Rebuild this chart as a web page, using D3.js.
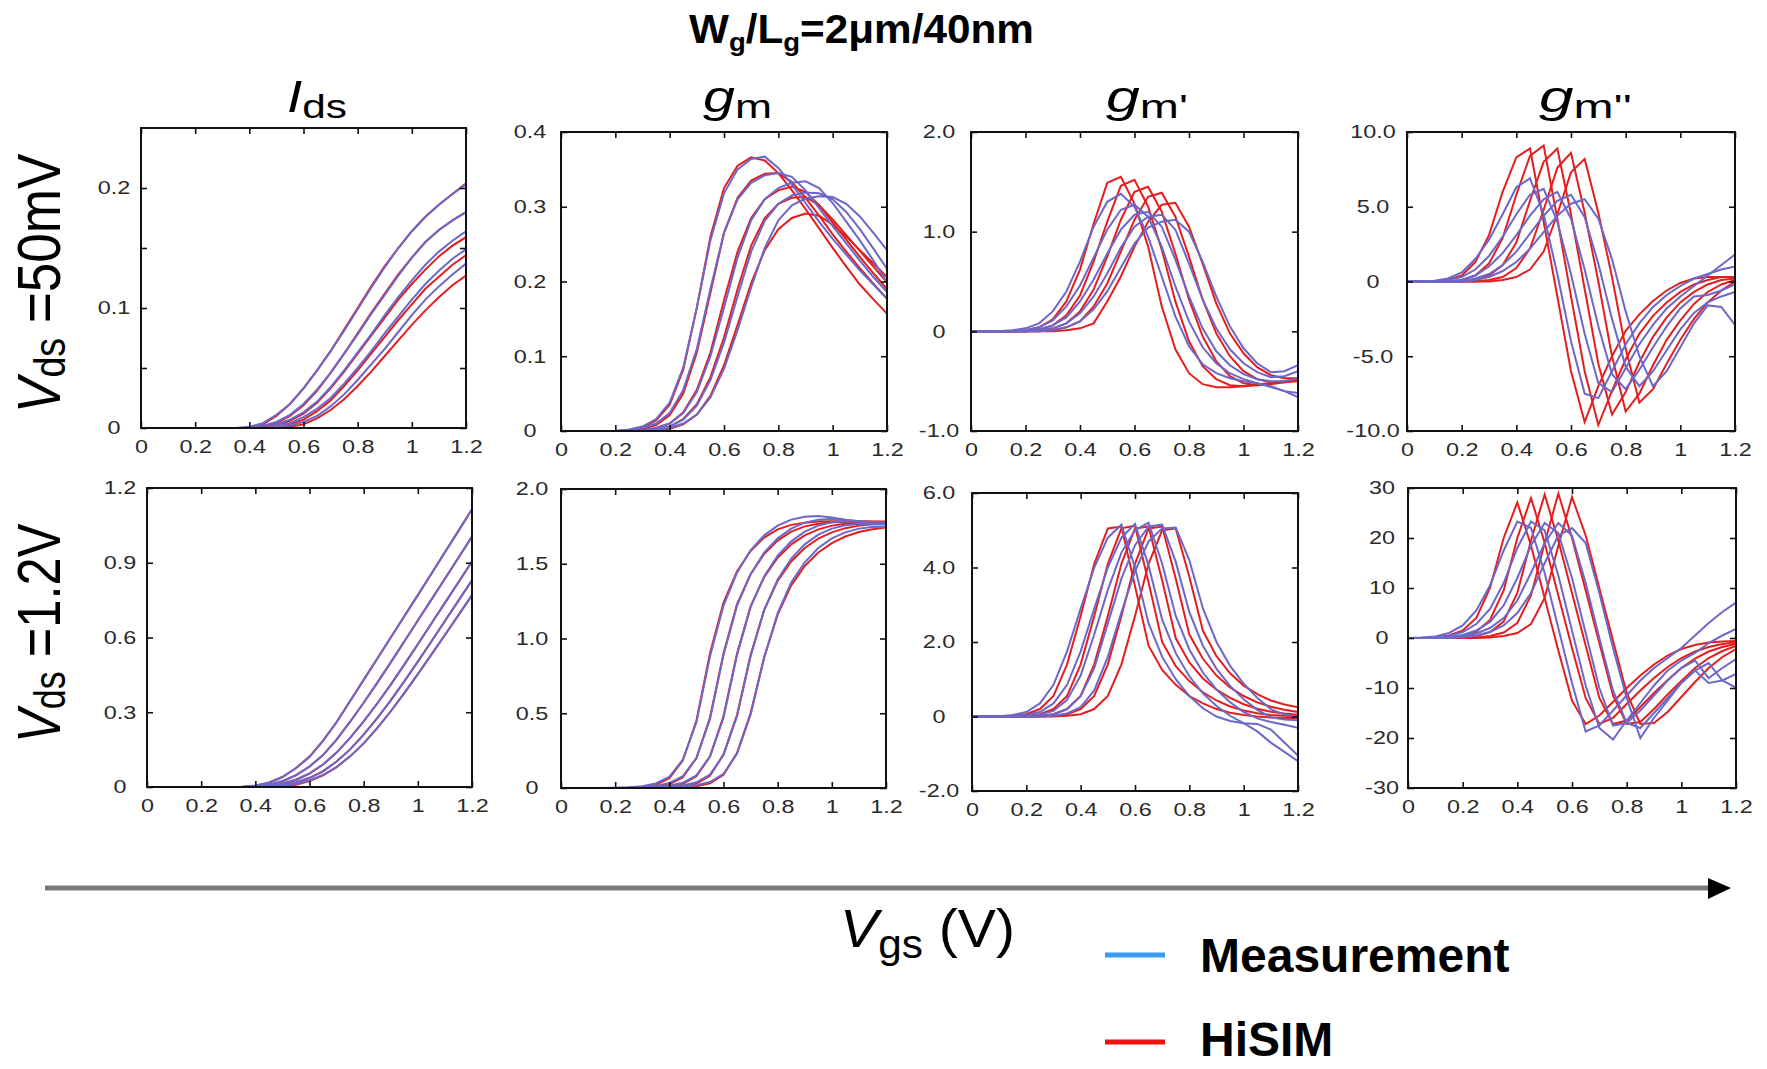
<!DOCTYPE html>
<html>
<head>
<meta charset="utf-8">
<script src="https://cdn.jsdelivr.net/npm/d3@7"></script>
<style>
  body { margin: 0; background: #fff; }
  svg { display: block; font-family: "Liberation Sans", Arial, sans-serif; }
</style>
</head>
<body>
<script>
// Gate voltage grid shared by every curve (V)
var vgs = [0, 0.05, 0.1, 0.15, 0.2, 0.25, 0.3, 0.35, 0.4, 0.45, 0.5, 0.55, 0.6,
           0.65, 0.7, 0.75, 0.8, 0.85, 0.9, 0.95, 1, 1.05, 1.1, 1.15, 1.2];

var xTicks = [0, 0.2, 0.4, 0.6, 0.8, 1, 1.2];
var xTickLabels = ["0", "0.2", "0.4", "0.6", "0.8", "1", "1.2"];

// ---- Vds = 50mV ----
// Ids
var idsLinYTicks = [0, 0.05, 0.1, 0.15, 0.2];
var idsLinYLabels = ["0", "", "0.1", "", "0.2"];
var idsLinMeas = [
  [0,0,0,0,0,0,0,0,0.001,0.004,0.011,0.020,0.033,0.048,0.064,0.081,0.099,0.117,0.134,0.150,0.164,0.176,0.186,0.195,0.203],
  [0,0,0,0,0,0,0,0,0,0.002,0.005,0.011,0.020,0.032,0.046,0.062,0.078,0.095,0.111,0.127,0.142,0.155,0.165,0.173,0.180],
  [0,0,0,0,0,0,0,0,0,0,0.003,0.007,0.013,0.022,0.034,0.048,0.063,0.078,0.094,0.109,0.123,0.136,0.147,0.156,0.164],
  [0,0,0,0,0,0,0,0,0,0,0.002,0.004,0.009,0.016,0.025,0.037,0.050,0.064,0.079,0.093,0.107,0.120,0.131,0.141,0.149],
  [0,0,0,0,0,0,0,0,0,0,0,0.002,0.005,0.010,0.018,0.028,0.040,0.053,0.066,0.080,0.094,0.107,0.118,0.128,0.137]
];
var idsLinSim = [
  [0,0,0,0,0,0,0,0,0,0.003,0.010,0.020,0.033,0.048,0.064,0.082,0.100,0.118,0.135,0.150,0.164,0.176,0.186,0.195,0.204],
  [0,0,0,0,0,0,0,0,0,0.001,0.004,0.010,0.019,0.031,0.046,0.062,0.079,0.096,0.112,0.128,0.142,0.155,0.165,0.173,0.180],
  [0,0,0,0,0,0,0,0,0,0,0.002,0.006,0.012,0.021,0.033,0.047,0.062,0.077,0.092,0.107,0.120,0.132,0.143,0.152,0.159],
  [0,0,0,0,0,0,0,0,0,0,0,0.003,0.007,0.014,0.023,0.035,0.048,0.062,0.076,0.090,0.103,0.116,0.126,0.136,0.144],
  [0,0,0,0,0,0,0,0,0,0,0,0.001,0.003,0.008,0.015,0.024,0.035,0.047,0.060,0.073,0.086,0.098,0.109,0.119,0.127]
];

// gm
var gmLinYTicks = [0, 0.1, 0.2, 0.3, 0.4];
var gmLinYLabels = ["0", "0.1", "0.2", "0.3", "0.4"];
var gmLinMeas = [
  [0,0,0,0,0,0.002,0.006,0.016,0.038,0.085,0.165,0.255,0.318,0.350,0.364,0.367,0.352,0.330,0.305,0.280,0.257,0.236,0.215,0.196,0.177],
  [0,0,0,0,0,0.001,0.004,0.010,0.024,0.055,0.110,0.190,0.265,0.310,0.332,0.342,0.345,0.340,0.322,0.298,0.274,0.251,0.228,0.206,0.186],
  [0,0,0,0,0,0,0.001,0.004,0.010,0.024,0.052,0.100,0.165,0.232,0.282,0.310,0.325,0.332,0.334,0.325,0.305,0.280,0.255,0.228,0.199],
  [0,0,0,0,0,0,0,0.002,0.006,0.015,0.034,0.068,0.118,0.180,0.240,0.281,0.304,0.315,0.319,0.318,0.310,0.293,0.270,0.244,0.217],
  [0,0,0,0,0,0,0,0.001,0.004,0.010,0.022,0.045,0.083,0.135,0.192,0.245,0.282,0.302,0.311,0.314,0.313,0.304,0.287,0.265,0.242]
];
var gmLinSim = [
  [0,0,0,0,0,0.001,0.005,0.014,0.035,0.082,0.165,0.260,0.325,0.355,0.366,0.362,0.345,0.322,0.297,0.271,0.245,0.220,0.196,0.176,0.157],
  [0,0,0,0,0,0,0.003,0.008,0.021,0.050,0.105,0.185,0.265,0.312,0.335,0.344,0.345,0.333,0.312,0.288,0.263,0.240,0.218,0.197,0.177],
  [0,0,0,0,0,0,0.001,0.004,0.010,0.025,0.055,0.105,0.175,0.240,0.285,0.310,0.322,0.327,0.320,0.302,0.279,0.256,0.233,0.211,0.190],
  [0,0,0,0,0,0,0,0.002,0.006,0.016,0.036,0.072,0.125,0.190,0.248,0.285,0.304,0.312,0.313,0.302,0.283,0.262,0.241,0.220,0.199],
  [0,0,0,0,0,0,0,0.001,0.003,0.009,0.022,0.047,0.088,0.142,0.198,0.242,0.270,0.285,0.291,0.288,0.276,0.260,0.242,0.224,0.206]
];

// gm'
var gm1LinYTicks = [-1, 0, 1, 2];
var gm1LinYLabels = ["-1.0", "0", "1.0", "2.0"];
var gm1LinMeas = [
  [0,0,0,0.01,0.03,0.08,0.20,0.40,0.70,1.05,1.30,1.38,1.25,0.95,0.55,0.15,-0.15,-0.33,-0.42,-0.47,-0.50,-0.52,-0.55,-0.60,-0.66],
  [0,0,0,0,0.01,0.04,0.11,0.25,0.46,0.74,1.02,1.22,1.27,1.15,0.85,0.45,0.10,-0.16,-0.32,-0.42,-0.48,-0.52,-0.56,-0.60,-0.62],
  [0,0,0,0,0,0.02,0.06,0.14,0.30,0.52,0.78,1.02,1.17,1.20,1.05,0.72,0.35,0.03,-0.20,-0.34,-0.43,-0.48,-0.50,-0.50,-0.47],
  [0,0,0,0,0,0.01,0.03,0.08,0.18,0.35,0.58,0.84,1.05,1.15,1.17,1.02,0.68,0.32,0.03,-0.18,-0.32,-0.41,-0.46,-0.45,-0.40],
  [0,0,0,0,0,0,0.01,0.04,0.10,0.22,0.40,0.64,0.88,1.04,1.10,1.12,1.00,0.70,0.35,0.05,-0.17,-0.32,-0.41,-0.40,-0.34]
];
var gm1LinSim = [
  [0,0,0,0,0.01,0.04,0.12,0.30,0.62,1.08,1.49,1.55,1.28,0.85,0.25,-0.18,-0.42,-0.53,-0.56,-0.56,-0.55,-0.53,-0.52,-0.50,-0.48],
  [0,0,0,0,0,0.02,0.06,0.16,0.36,0.70,1.10,1.46,1.52,1.25,0.82,0.30,-0.10,-0.35,-0.48,-0.54,-0.55,-0.54,-0.52,-0.50,-0.48],
  [0,0,0,0,0,0.01,0.03,0.08,0.20,0.42,0.75,1.12,1.40,1.45,1.20,0.78,0.32,-0.05,-0.30,-0.45,-0.52,-0.54,-0.53,-0.51,-0.49],
  [0,0,0,0,0,0,0.01,0.04,0.10,0.25,0.48,0.80,1.12,1.35,1.39,1.15,0.75,0.32,-0.02,-0.25,-0.40,-0.48,-0.51,-0.51,-0.50],
  [0,0,0,0,0,0,0,0.01,0.03,0.08,0.30,0.55,0.85,1.10,1.27,1.29,1.05,0.68,0.28,-0.02,-0.22,-0.36,-0.44,-0.47,-0.47]
];

// gm''
var gm2LinYTicks = [-10, -5, 0, 5, 10];
var gm2LinYLabels = ["-10.0", "-5.0", "0", "5.0", "10.0"];
var gm2LinMeas = [
  [0,0,0.05,0.2,0.6,1.5,2.8,4.5,6.3,6.9,4.5,0.5,-4.0,-7.5,-7.8,-6.0,-4.2,-2.8,-1.7,-0.9,-0.3,0.2,0.5,0.8,1.0],
  [0,0,0,0.1,0.3,0.8,1.7,3.0,4.5,5.8,6.2,4.0,0.5,-3.5,-6.8,-7.4,-5.8,-4.2,-2.9,-1.8,-1.0,-0.3,0.4,1.1,1.8],
  [0,0,0,0,0.1,0.4,1.0,1.9,3.1,4.4,5.5,6.0,4.2,0.8,-3.0,-6.2,-7.2,-5.9,-4.4,-3.0,-1.8,-1.0,-0.9,-0.6,-0.2],
  [0,0,0,0,0,0.2,0.5,1.1,2.0,3.2,4.4,5.4,5.8,4.3,1.2,-2.5,-5.7,-7.0,-6.0,-4.6,-3.2,-2.1,-1.4,-1.0,-0.7],
  [0,0,0,0,0,0.1,0.3,0.7,1.3,2.2,3.3,4.4,5.2,5.5,4.2,1.5,-2.0,-5.0,-7.0,-6.0,-4.4,-2.8,-1.6,-1.7,-2.9]
];
var gm2LinSim = [
  [0,0,0,0.1,0.4,1.3,3.1,6.0,8.3,8.9,4.0,-1.0,-6.0,-9.4,-7.0,-5.0,-3.3,-2.2,-1.3,-0.6,-0.1,0.2,0.3,0.3,0.3],
  [0,0,0,0,0.1,0.4,1.2,2.9,5.8,8.4,9.1,4.2,-1.0,-6.0,-9.6,-7.3,-5.2,-3.5,-2.3,-1.4,-0.7,-0.2,0.1,0.3,0.3],
  [0,0,0,0,0,0.1,0.4,1.1,2.6,5.4,8.0,8.9,4.5,-0.5,-5.5,-8.9,-7.4,-5.4,-3.7,-2.4,-1.4,-0.7,-0.2,0.1,0.2],
  [0,0,0,0,0,0,0.1,0.3,0.9,2.2,4.8,7.6,8.6,4.6,0.0,-5.0,-8.7,-7.5,-5.6,-3.9,-2.6,-1.5,-0.7,-0.2,0.1],
  [0,0,0,0,0,0,0,0.1,0.3,0.8,2.0,4.5,7.3,8.2,4.6,0.3,-4.5,-8.1,-7.2,-5.5,-3.9,-2.5,-1.4,-0.6,0.0]
];

// ---- Vds = 1.2V ----
// Ids
var idsSatYTicks = [0, 0.3, 0.6, 0.9, 1.2];
var idsSatYLabels = ["0", "0.3", "0.6", "0.9", "1.2"];
var idsSatMeas = [
  [0,0,0,0,0,0,0,0.001,0.006,0.018,0.040,0.075,0.120,0.185,0.260,0.345,0.430,0.515,0.600,0.685,0.770,0.856,0.942,1.028,1.115],
  [0,0,0,0,0,0,0,0,0.003,0.010,0.024,0.048,0.082,0.128,0.190,0.262,0.338,0.418,0.500,0.584,0.668,0.752,0.836,0.920,1.005],
  [0,0,0,0,0,0,0,0,0,0.005,0.014,0.030,0.055,0.090,0.138,0.197,0.263,0.335,0.411,0.491,0.573,0.656,0.739,0.822,0.905],
  [0,0,0,0,0,0,0,0,0,0.003,0.008,0.019,0.037,0.064,0.102,0.151,0.210,0.276,0.348,0.424,0.503,0.584,0.666,0.748,0.830],
  [0,0,0,0,0,0,0,0,0,0,0.005,0.012,0.026,0.048,0.080,0.123,0.175,0.236,0.304,0.377,0.453,0.531,0.610,0.690,0.770]
];
var idsSatSim = [
  [0,0,0,0,0,0,0,0,0.004,0.016,0.040,0.076,0.122,0.186,0.261,0.345,0.430,0.515,0.600,0.685,0.770,0.856,0.942,1.028,1.115],
  [0,0,0,0,0,0,0,0,0.001,0.007,0.022,0.047,0.082,0.128,0.190,0.262,0.338,0.418,0.500,0.584,0.668,0.752,0.836,0.920,1.005],
  [0,0,0,0,0,0,0,0,0,0.003,0.011,0.028,0.054,0.090,0.138,0.197,0.263,0.335,0.411,0.491,0.573,0.656,0.739,0.822,0.905],
  [0,0,0,0,0,0,0,0,0,0.001,0.006,0.017,0.036,0.063,0.102,0.151,0.210,0.276,0.348,0.424,0.503,0.584,0.666,0.748,0.830],
  [0,0,0,0,0,0,0,0,0,0,0.002,0.009,0.024,0.047,0.080,0.123,0.175,0.236,0.304,0.377,0.453,0.531,0.610,0.690,0.770]
];

// gm
var gmSatYTicks = [0, 0.5, 1, 1.5, 2];
var gmSatYLabels = ["0", "0.5", "1.0", "1.5", "2.0"];
var gmSatMeas = [
  [0,0,0,0,0.002,0.005,0.012,0.030,0.075,0.190,0.440,0.880,1.220,1.440,1.590,1.690,1.755,1.795,1.815,1.820,1.810,1.795,1.785,1.780,1.775],
  [0,0,0,0,0,0.002,0.006,0.014,0.033,0.080,0.200,0.460,0.890,1.220,1.430,1.575,1.670,1.735,1.775,1.795,1.800,1.793,1.785,1.778,1.772],
  [0,0,0,0,0,0,0.003,0.007,0.015,0.035,0.085,0.210,0.470,0.890,1.210,1.415,1.555,1.650,1.715,1.755,1.778,1.785,1.782,1.776,1.770],
  [0,0,0,0,0,0,0.001,0.004,0.008,0.017,0.038,0.090,0.220,0.480,0.880,1.190,1.395,1.535,1.630,1.695,1.735,1.758,1.766,1.765,1.762],
  [0,0,0,0,0,0,0,0.002,0.004,0.009,0.019,0.040,0.095,0.230,0.490,0.870,1.170,1.375,1.510,1.605,1.670,1.710,1.735,1.745,1.748]
];
var gmSatSim = [
  [0,0,0,0,0,0.002,0.007,0.022,0.065,0.185,0.450,0.900,1.240,1.450,1.585,1.675,1.730,1.760,1.775,1.782,1.785,1.785,1.784,1.783,1.782],
  [0,0,0,0,0,0,0.003,0.009,0.025,0.072,0.200,0.470,0.900,1.230,1.430,1.565,1.655,1.715,1.750,1.768,1.777,1.780,1.781,1.781,1.780],
  [0,0,0,0,0,0,0.001,0.004,0.010,0.028,0.078,0.210,0.480,0.900,1.215,1.410,1.540,1.630,1.690,1.730,1.755,1.768,1.774,1.776,1.777],
  [0,0,0,0,0,0,0,0.002,0.004,0.011,0.030,0.082,0.225,0.490,0.890,1.190,1.385,1.515,1.605,1.668,1.710,1.738,1.755,1.764,1.768],
  [0,0,0,0,0,0,0,0,0.002,0.005,0.012,0.032,0.088,0.235,0.500,0.875,1.160,1.355,1.485,1.575,1.638,1.682,1.712,1.731,1.742]
];

// gm'
var gm1SatYTicks = [-2, 0, 2, 4, 6];
var gm1SatYLabels = ["-2.0", "0", "2.0", "4.0", "6.0"];
var gm1SatMeas = [
  [0,0,0.01,0.04,0.12,0.35,0.85,1.75,2.90,4.00,4.80,5.15,4.00,2.50,1.60,1.00,0.55,0.22,0.00,-0.12,-0.18,-0.20,-0.35,-0.70,-1.05],
  [0,0,0,0.01,0.04,0.12,0.35,0.85,1.75,2.90,4.00,4.80,5.17,4.05,2.60,1.70,1.08,0.62,0.28,0.02,-0.18,-0.40,-0.70,-0.95,-1.20],
  [0,0,0,0,0.01,0.05,0.15,0.45,1.10,2.20,3.40,4.40,5.00,5.20,4.10,2.70,1.80,1.18,0.72,0.38,0.12,-0.05,-0.15,-0.22,-0.30],
  [0,0,0,0,0,0.01,0.06,0.20,0.55,1.30,2.50,3.70,4.60,5.10,5.15,4.15,2.80,1.90,1.28,0.82,0.46,0.18,-0.02,-0.08,-0.10],
  [0,0,0,0,0,0,0.02,0.08,0.25,0.70,1.60,2.80,3.90,4.70,5.05,5.07,4.20,2.90,2.00,1.36,0.88,0.50,0.20,0.05,0.00]
];
var gm1SatSim = [
  [0,0,0,0.02,0.06,0.20,0.55,1.40,2.70,4.10,5.05,5.10,3.50,1.90,1.25,0.85,0.55,0.35,0.20,0.10,0.04,0.00,-0.03,-0.04,-0.04],
  [0,0,0,0,0.02,0.06,0.20,0.55,1.40,2.70,4.10,5.05,5.12,3.60,2.00,1.35,0.95,0.65,0.43,0.27,0.16,0.09,0.04,0.02,0.01],
  [0,0,0,0,0,0.02,0.06,0.20,0.55,1.40,2.70,4.10,5.05,5.10,3.65,2.10,1.45,1.02,0.72,0.50,0.33,0.21,0.13,0.08,0.05],
  [0,0,0,0,0,0,0.02,0.06,0.20,0.55,1.40,2.70,4.10,5.05,5.10,3.70,2.20,1.55,1.10,0.78,0.55,0.38,0.26,0.18,0.12],
  [0,0,0,0,0,0,0,0.02,0.06,0.20,0.55,1.40,2.70,4.10,5.00,5.05,3.75,2.30,1.62,1.16,0.83,0.60,0.43,0.32,0.25]
];

// gm''
var gm2SatYTicks = [-30, -20, -10, 0, 10, 20, 30];
var gm2SatYLabels = ["-30", "-20", "-10", "0", "10", "20", "30"];
var gm2SatMeas = [
  [0,0.1,0.3,1.0,2.5,5.5,10.5,17.5,23.3,22.0,13.0,2.0,-9.0,-18.7,-17.5,-14.5,-11.5,-8.5,-6.0,-4.0,-2.0,0.5,3.0,5.2,7.1],
  [0,0,0.1,0.4,1.2,2.8,5.8,11.0,18.0,23.3,21.5,12.5,1.5,-9.5,-18.0,-20.3,-16.5,-13.0,-9.5,-6.5,-4.5,-3.0,-1.0,0.5,1.8],
  [0,0,0,0.2,0.6,1.5,3.2,6.5,12.0,18.5,23.0,21.0,12.0,1.0,-10.0,-17.5,-17.0,-14.5,-11.5,-8.5,-6.0,-4.5,-8.0,-6.0,-4.2],
  [0,0,0,0,0.3,0.9,2.0,4.0,7.5,13.0,19.0,23.0,20.5,11.0,0.0,-10.5,-17.0,-18.0,-15.0,-12.0,-9.0,-6.5,-5.0,-8.5,-9.9],
  [0,0,0,0,0.2,0.5,1.2,2.5,5.0,9.0,15.0,20.5,22.0,19.0,9.0,-2.0,-12.0,-20.0,-16.0,-12.5,-9.0,-6.5,-9.0,-8.5,-7.2]
];
var gm2SatSim = [
  [0,0,0.1,0.5,1.5,4.0,10.0,20.0,27.1,18.5,8.0,-2.5,-12.5,-17.2,-15.5,-12.8,-10.0,-7.5,-5.3,-3.5,-2.2,-1.4,-0.9,-0.7,-0.6],
  [0,0,0,0.1,0.4,1.3,3.6,9.5,20.0,28.0,19.0,8.5,-2.0,-12.0,-17.2,-16.0,-13.2,-10.5,-8.0,-5.8,-4.0,-2.7,-1.8,-1.2,-0.9],
  [0,0,0,0,0.1,0.4,1.2,3.3,9.0,19.5,28.7,19.5,9.0,-1.5,-12.0,-17.2,-16.5,-13.8,-11.0,-8.4,-6.0,-4.1,-2.7,-1.8,-1.2],
  [0,0,0,0,0,0.1,0.4,1.1,3.0,8.5,19.0,28.9,20.0,9.5,-1.0,-11.5,-17.2,-16.8,-14.2,-11.3,-8.6,-6.0,-4.0,-2.6,-1.6],
  [0,0,0,0,0,0,0.1,0.4,1.0,2.8,8.0,18.5,28.2,20.5,10.0,-0.5,-11.0,-17.2,-17.0,-14.8,-11.8,-8.8,-6.0,-3.8,-2.2]
];

// Size of the page
var width = 1767;
var height = 1069;

var measColor = "#6c68c9";
var simColor = "#e41e1e";

// Where each panel sits on the page
var panels = [
  {meas: idsLinMeas, sim: idsLinSim, yDomain: [0, 0.25], yTicks: idsLinYTicks, yLabels: idsLinYLabels, x: 141, y: 128, w: 325, h: 300, lab: 27},
  {meas: gmLinMeas, sim: gmLinSim, yDomain: [0, 0.4], yTicks: gmLinYTicks, yLabels: gmLinYLabels, x: 561, y: 132, w: 326, h: 299, lab: 31},
  {meas: gm1LinMeas, sim: gm1LinSim, yDomain: [-1, 2], yTicks: gm1LinYTicks, yLabels: gm1LinYLabels, x: 971, y: 132, w: 327, h: 299, lab: 32},
  {meas: gm2LinMeas, sim: gm2LinSim, yDomain: [-10, 10], yTicks: gm2LinYTicks, yLabels: gm2LinYLabels, x: 1407, y: 132, w: 328, h: 299, lab: 34},
  {meas: idsSatMeas, sim: idsSatSim, yDomain: [0, 1.2], yTicks: idsSatYTicks, yLabels: idsSatYLabels, x: 147, y: 488, w: 325, h: 299, lab: 27},
  {meas: gmSatMeas, sim: gmSatSim, yDomain: [0, 2], yTicks: gmSatYTicks, yLabels: gmSatYLabels, x: 561, y: 489, w: 325, h: 299, lab: 29},
  {meas: gm1SatMeas, sim: gm1SatSim, yDomain: [-2, 6], yTicks: gm1SatYTicks, yLabels: gm1SatYLabels, x: 972, y: 493, w: 326, h: 298, lab: 33},
  {meas: gm2SatMeas, sim: gm2SatSim, yDomain: [-30, 30], yTicks: gm2SatYTicks, yLabels: gm2SatYLabels, x: 1408, y: 488, w: 328, h: 300, lab: 26}
];

// Create the SVG element
var svg = d3.select("body")
  .append("svg")
  .attr("width", width)
  .attr("height", height);

svg.append("rect").attr("width", width).attr("height", height).attr("fill", "#fff");

// squeeze or stretch a text horizontally until it is `target` px wide
function fitWidth(text, target) {
  var w = text.node().getBBox().width;
  text.attr("transform", "scale(" + (target / w) + ",1)");
}

panels.forEach(function(p, k) {
  var g = svg.append("g").attr("transform", "translate(" + p.x + "," + p.y + ")");
  var x = d3.scaleLinear().domain([0, 1.2]).range([0, p.w]);
  var y = d3.scaleLinear().domain(p.yDomain).range([p.h, 0]);

  g.append("clipPath").attr("id", "clip" + k)
    .append("rect").attr("width", p.w).attr("height", p.h);

  var line = d3.line()
    .x(function(d, i) { return x(vgs[i]); })
    .y(function(d) { return y(d); });

  var curves = g.append("g").attr("clip-path", "url(#clip" + k + ")");

  curves.selectAll(".sim")
    .data(p.sim)
    .enter()
    .append("path")
    .attr("class", "sim")
    .attr("d", line)
    .attr("fill", "none")
    .attr("stroke", simColor)
    .attr("stroke-width", 2);

  curves.selectAll(".meas")
    .data(p.meas)
    .enter()
    .append("path")
    .attr("class", "meas")
    .attr("d", line)
    .attr("fill", "none")
    .attr("stroke", measColor)
    .attr("stroke-width", 2);

  // ticks point inwards on all four sides
  var bottom = g.append("g")
    .attr("transform", "translate(0," + p.h + ")")
    .call(d3.axisBottom(x).tickValues(xTicks).tickSize(-6).tickPadding(12)
      .tickFormat(function(d, i) { return xTickLabels[i]; }));
  g.append("g")
    .call(d3.axisTop(x).tickValues(xTicks).tickSize(-6).tickFormat(""));
  var left = g.append("g")
    .call(d3.axisLeft(y).tickValues(p.yTicks).tickSize(-6)
      .tickFormat(function(d, i) { return p.yLabels[i]; }));
  g.append("g")
    .attr("transform", "translate(" + p.w + ",0)")
    .call(d3.axisRight(y).tickValues(p.yTicks).tickSize(-6).tickFormat(""));

  g.selectAll(".domain").remove();
  g.selectAll(".tick line").attr("stroke", "#111").attr("stroke-width", 1.6);
  g.selectAll(".tick text")
    .attr("font-family", "Liberation Sans, Arial, sans-serif")
    .attr("font-size", 18)
    .attr("fill", "#2a2a2a");
  bottom.selectAll(".tick text").attr("transform", "scale(1.3,1)");
  left.selectAll(".tick text")
    .attr("x", 0)
    .attr("text-anchor", "middle")
    .attr("transform", "translate(" + (-p.lab) + ",0) scale(1.3,1)");

  g.append("rect")
    .attr("width", p.w)
    .attr("height", p.h)
    .attr("fill", "none")
    .attr("stroke", "#111")
    .attr("stroke-width", 2);
});

// Title
var title = svg.append("g").attr("transform", "translate(689,43)")
  .append("text")
  .attr("font-weight", "bold")
  .attr("font-size", 40)
  .attr("fill", "#000");
title.append("tspan").text("W");
title.append("tspan").attr("font-size", 26).attr("dy", 8).text("g");
title.append("tspan").attr("dy", -8).text("/L");
title.append("tspan").attr("font-size", 26).attr("dy", 8).text("g");
title.append("tspan").attr("dy", -8).text("=2\u03bcm/40nm");
fitWidth(title, 345);

// Column headings
var heads = [
  {main: "I", sub: "ds", x: 287, w: 60},
  {main: "g", sub: "m", x: 703, w: 69},
  {main: "g", sub: "m'", x: 1106, w: 82},
  {main: "g", sub: "m''", x: 1539, w: 93}
];
heads.forEach(function(h) {
  var t = svg.append("g").attr("transform", "translate(" + h.x + ",112)")
    .append("text").attr("fill", "#000");
  t.append("tspan").attr("font-style", "italic").attr("font-size", 44).text(h.main);
  t.append("tspan").attr("font-size", 34).attr("dy", 6).text(h.sub);
  fitWidth(t, h.w);
});

// Row labels
var rows = [
  {rest: " =50mV", y: 413, len: 260},
  {rest: " =1.2V", y: 743, len: 220}
];
rows.forEach(function(r) {
  var t = svg.append("g").attr("transform", "translate(60," + r.y + ") rotate(-90)")
    .append("text").attr("fill", "#000").attr("font-size", 62);
  t.append("tspan").attr("font-style", "italic").text("V");
  t.append("tspan").attr("font-size", 44).attr("dy", 5).text("ds");
  t.append("tspan").attr("dy", -5).text(r.rest);
  fitWidth(t, r.len);
});

// Vgs arrow
svg.append("line")
  .attr("x1", 45).attr("x2", 1712)
  .attr("y1", 888).attr("y2", 888)
  .attr("stroke", "#7a7a7a")
  .attr("stroke-width", 5);
svg.append("path")
  .attr("d", "M1708,878 L1731,888 L1708,899 Z")
  .attr("fill", "#000");

var vg = svg.append("g").attr("transform", "translate(840,947)")
  .append("text").attr("fill", "#000").attr("font-size", 54);
vg.append("tspan").attr("font-style", "italic").text("V");
vg.append("tspan").attr("font-size", 40).attr("dy", 11).text("gs");
vg.append("tspan").attr("dy", -11).text(" (V)");
fitWidth(vg, 175);

// Legend
var legend = [
  {name: "Measurement", color: "#3d9cf2", y: 955, ty: 972},
  {name: "HiSIM", color: "#f01010", y: 1042, ty: 1056}
];
legend.forEach(function(d) {
  svg.append("line")
    .attr("x1", 1105).attr("x2", 1165)
    .attr("y1", d.y).attr("y2", d.y)
    .attr("stroke", d.color)
    .attr("stroke-width", 5);
  svg.append("text")
    .attr("x", 1200).attr("y", d.ty)
    .attr("font-weight", "bold")
    .attr("font-size", 48)
    .attr("fill", "#000")
    .text(d.name);
});
</script>
</body>
</html>
